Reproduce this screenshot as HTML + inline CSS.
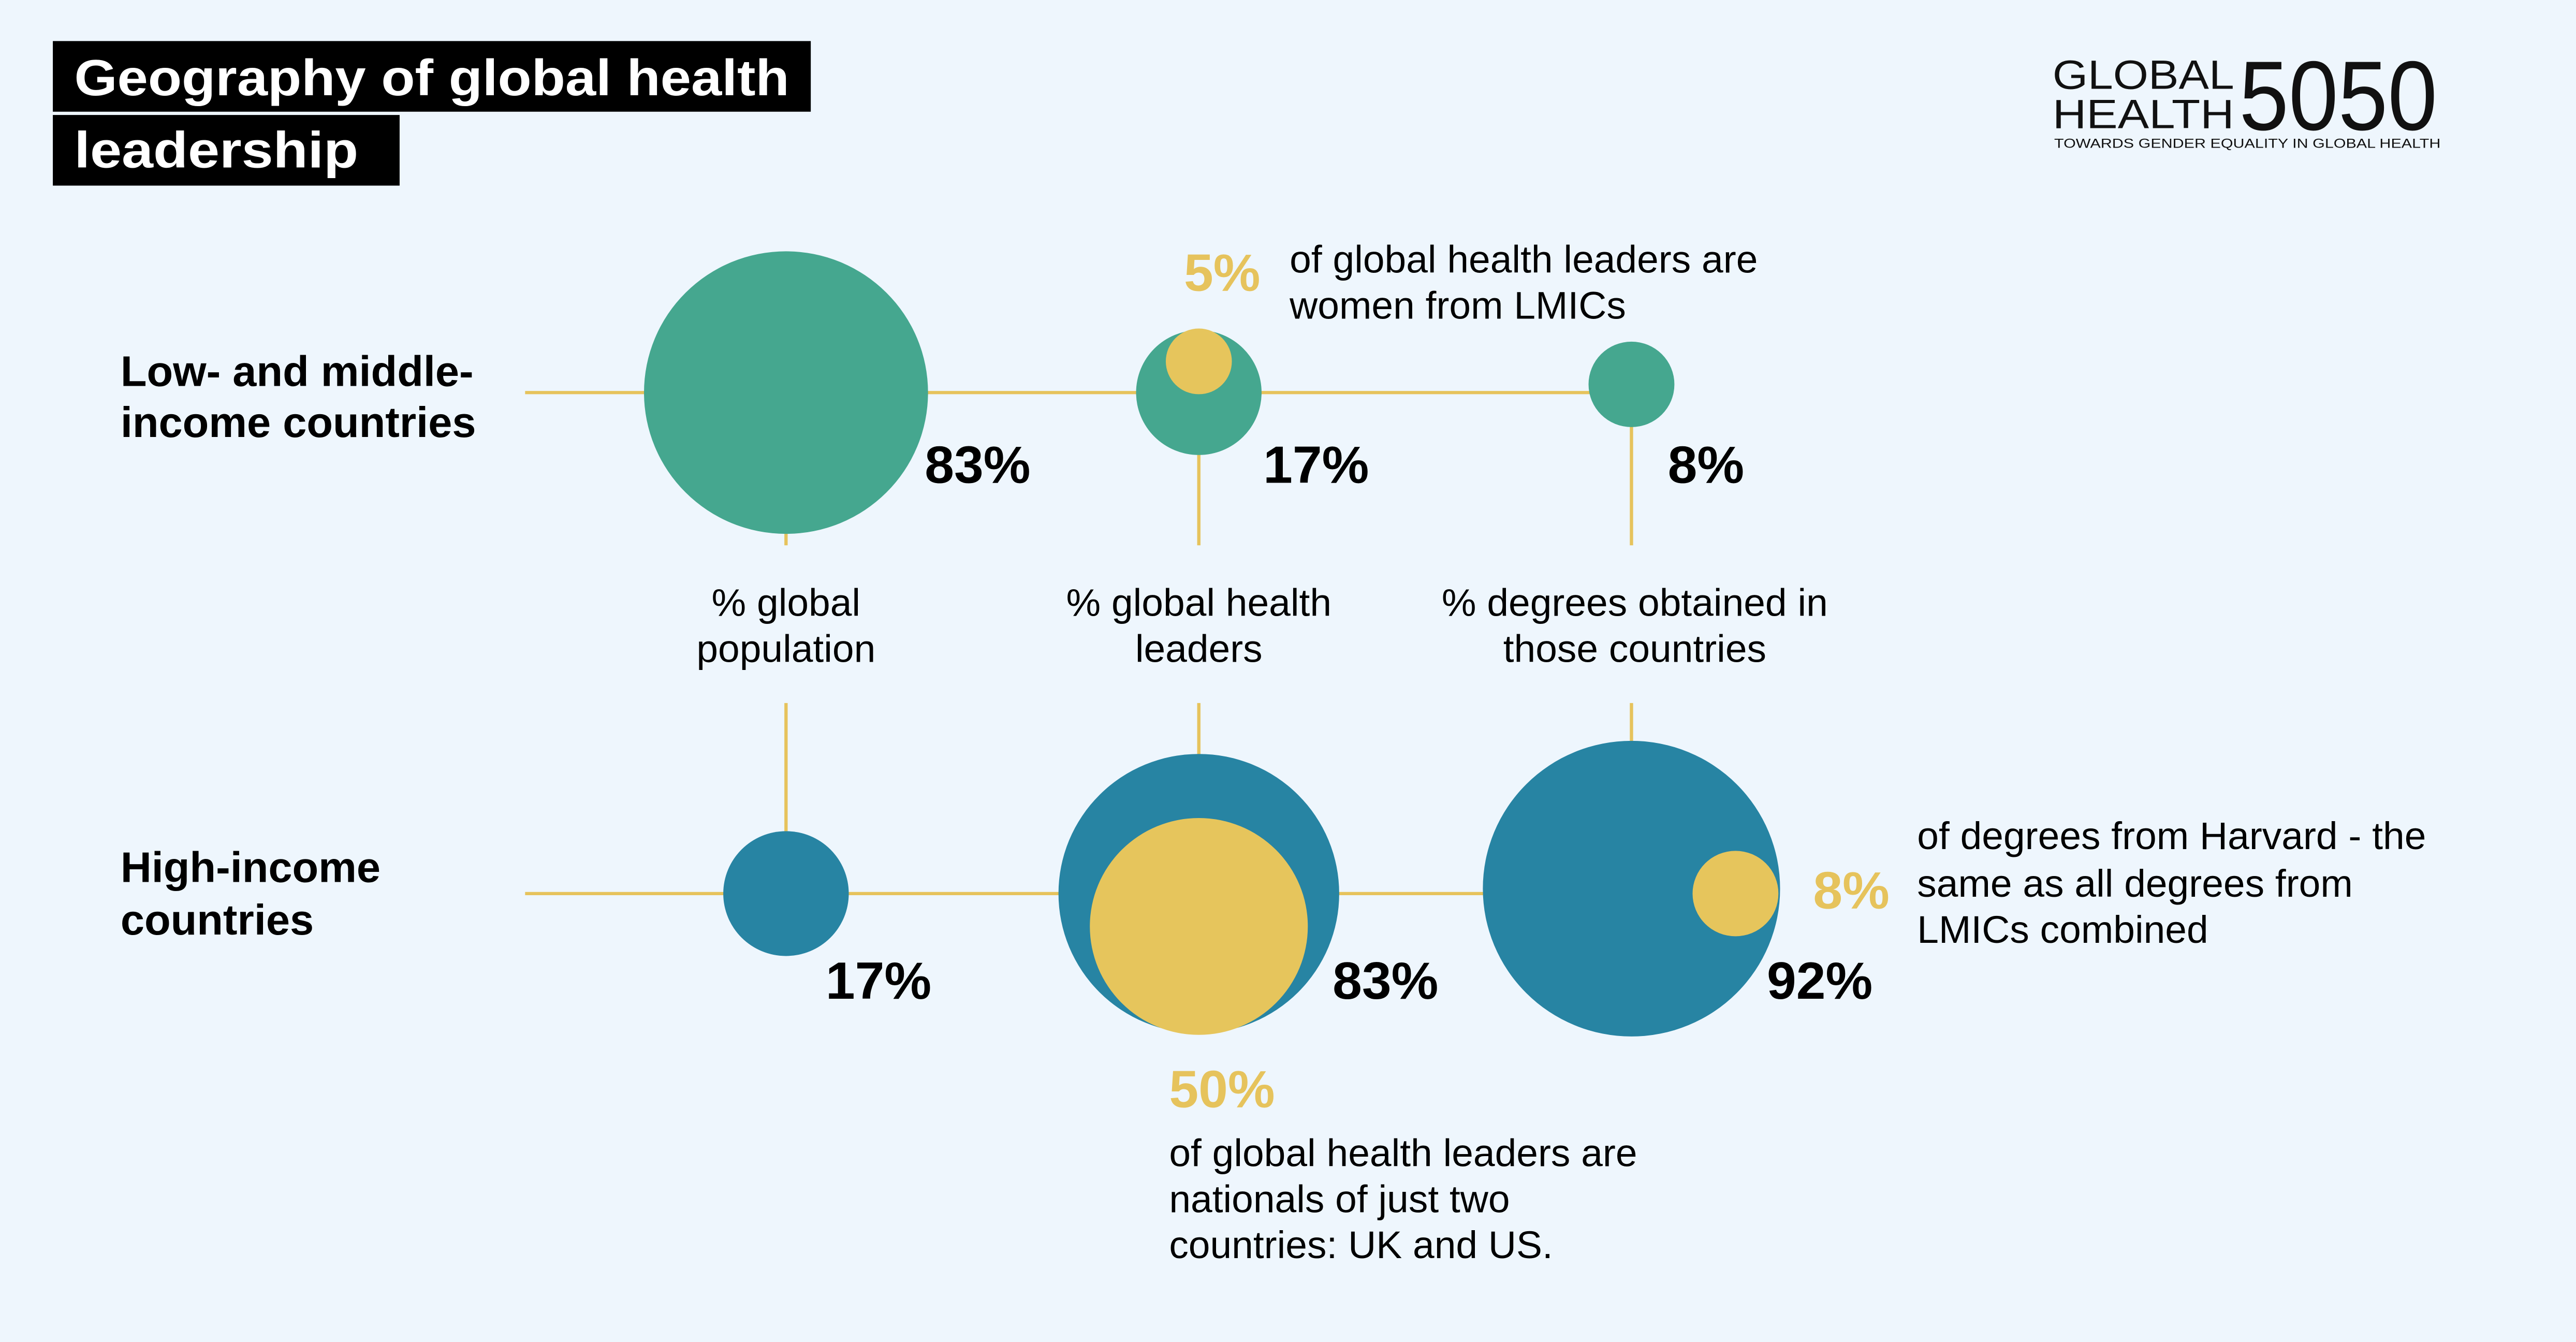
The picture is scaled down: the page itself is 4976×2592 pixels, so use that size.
<!DOCTYPE html>
<html><head><meta charset="utf-8"><style>
html,body{margin:0;padding:0;background:#eef6fd;}
svg{display:block;}
text{font-family:"Liberation Sans",sans-serif;}
</style></head><body>
<svg width="4976" height="2592" viewBox="0 0 1560 817" preserveAspectRatio="none" xmlns="http://www.w3.org/2000/svg">
<rect x="0" y="0" width="1560" height="817" fill="#eef6fd"/>
<rect x="32" y="25" width="459" height="43" fill="#000"/>
<text x="45" y="58" fill="#fff" font-size="31" font-weight="bold" textLength="433" lengthAdjust="spacingAndGlyphs">Geography of global health</text>
<rect x="32" y="70" width="210" height="43" fill="#000"/>
<text x="45" y="102" fill="#fff" font-size="31" font-weight="bold" textLength="172" lengthAdjust="spacingAndGlyphs">leadership</text>
<text x="1243" y="54" font-size="25" fill="#111" textLength="110" lengthAdjust="spacingAndGlyphs">GLOBAL</text>
<text x="1243" y="78" font-size="25" fill="#111" textLength="110" lengthAdjust="spacingAndGlyphs">HEALTH</text>
<text x="1356" y="79" font-size="60" fill="#111" font-weight="normal" textLength="120" lengthAdjust="spacingAndGlyphs">5050</text>
<text x="1244" y="90" font-size="8" fill="#111" textLength="234" lengthAdjust="spacingAndGlyphs">TOWARDS GENDER EQUALITY IN GLOBAL HEALTH</text>
<g stroke="#e6c35c" stroke-width="2">
<line x1="318" y1="239" x2="987" y2="239"/>
<line x1="318" y1="544" x2="900" y2="544"/>
<line x1="476" y1="320" x2="476" y2="332"/>
<line x1="476" y1="428" x2="476" y2="510"/>
<line x1="726" y1="270" x2="726" y2="332"/>
<line x1="726" y1="428" x2="726" y2="462"/>
<line x1="988" y1="255" x2="988" y2="332"/>
<line x1="988" y1="428" x2="988" y2="456"/>
</g>
<circle cx="476" cy="239" r="86" fill="#45a78f"/>
<circle cx="726" cy="239" r="38" fill="#45a78f"/>
<circle cx="726" cy="220" r="20" fill="#e6c55c"/>
<circle cx="988" cy="234" r="26" fill="#45a78f"/>
<circle cx="476" cy="544" r="38" fill="#2784a3"/>
<circle cx="726" cy="544" r="85" fill="#2784a3"/>
<circle cx="726" cy="564" r="66" fill="#e6c55c"/>
<circle cx="988" cy="541" r="90" fill="#2784a3"/>
<circle cx="1051" cy="544" r="26" fill="#e6c55c"/>
<g font-size="32" font-weight="bold" fill="#000">
<text x="560" y="294">83%</text>
<text x="765" y="294">17%</text>
<text x="1010" y="294">8%</text>
<text x="500" y="608">17%</text>
<text x="807" y="608">83%</text>
<text x="1070" y="608">92%</text>
</g>
<g font-size="32" font-weight="bold" fill="#e6c35c">
<text x="717" y="177">5%</text>
<text x="708" y="674">50%</text>
<text x="1098" y="553">8%</text>
</g>
<g font-size="26" font-weight="bold" fill="#000">
<text x="73" y="235">Low- and middle-</text>
<text x="73" y="266">income countries</text>
<text x="73" y="537">High-income</text>
<text x="73" y="569">countries</text>
</g>
<g font-size="23.5" fill="#000">
<text x="781" y="166">of global health leaders are</text>
<text x="781" y="194">women from LMICs</text>
<text x="708" y="710">of global health leaders are</text>
<text x="708" y="738">nationals of just two</text>
<text x="708" y="766">countries: UK and US.</text>
<text x="1161" y="517">of degrees from Harvard - the</text>
<text x="1161" y="546">same as all degrees from</text>
<text x="1161" y="574">LMICs combined</text>
</g>
<g font-size="23.5" fill="#000" text-anchor="middle">
<text x="476" y="375">% global</text>
<text x="476" y="403">population</text>
<text x="726" y="375">% global health</text>
<text x="726" y="403">leaders</text>
<text x="990" y="375">% degrees obtained in</text>
<text x="990" y="403">those countries</text>
</g>
</svg>
</body></html>
